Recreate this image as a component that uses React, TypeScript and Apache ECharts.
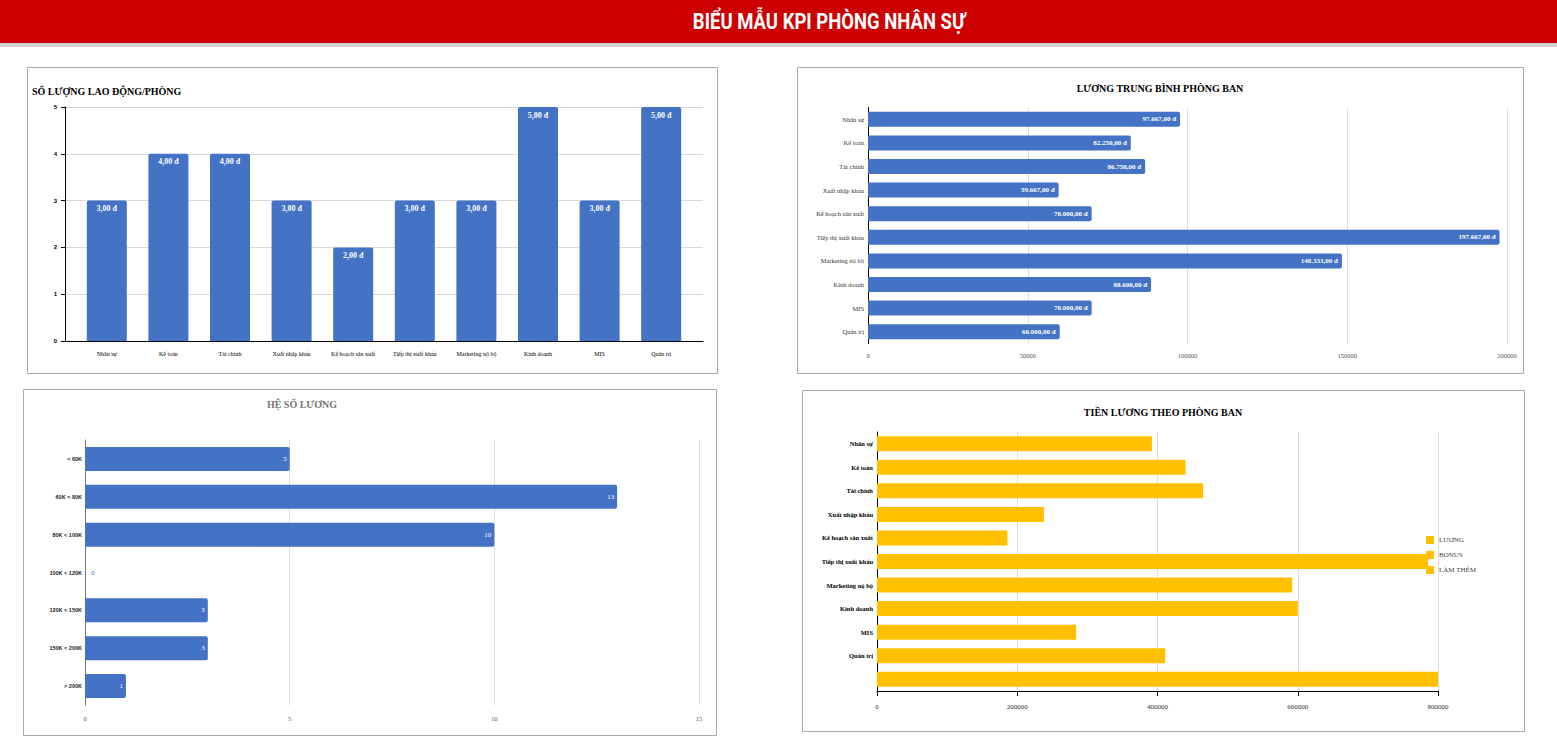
import React, { useEffect, useRef } from "react";
import * as echarts from "echarts";

// ---- DATA ----
const departments = [
  "Nhân sự",
  "Kế toán",
  "Tài chính",
  "Xuất nhập khẩu",
  "Kế hoạch sản xuất",
  "Tiếp thị xuất khẩu",
  "Marketing nộ bộ",
  "Kinh doanh",
  "MIS",
  "Quản trị",
];
const headcount = [3, 4, 4, 3, 2, 3, 3, 5, 3, 5];
const avgSalary = [97667, 82250, 86750, 59667, 70000, 197667, 148333, 88600, 70000, 60000];

const salaryBands = ["< 60K", "60K < 80K", "80K < 100K", "100K < 120K", "120K < 150K", "150K < 200K", "> 200K"];
const bandCounts = [5, 13, 10, 0, 3, 3, 1];

const payrollCategories = [...departments, ""];
const payrollSalary = [392000, 440000, 465000, 238000, 186000, 786000, 592000, 600000, 284000, 411000, 800000];
const payrollBonus: number[] = [];
const payrollOvertime: number[] = [];
const payrollLegend = ["LƯƠNG", "BONUS", "LÀM THÊM"];

const headerTitle = "BIỂU MẪU KPI PHÒNG NHÂN SỰ";
const titles = ["SỐ LƯỢNG LAO ĐỘNG/PHÒNG", "LƯƠNG TRUNG BÌNH PHÒNG BAN", "HỆ SỐ LƯƠNG", "TIỀN LƯƠNG THEO PHÒNG BAN"];

// ---- HELPERS ----
const SERIF = "'Liberation Serif', 'DejaVu Serif', serif";
const SANS = "'Liberation Sans', sans-serif";
const BLUE = "#4472c4";
const GOLD = "#ffc000";
const fmtCount = (v: number) => v.toFixed(2).replace(".", ",") + " đ";
const fmtMoney = (v: number) =>
  Math.round(v)
    .toString()
    .replace(/\B(?=(\d{3})+(?!\d))/g, ".") + ",00 đ";
const plain = (v: number) => String(v);

export default function App() {
  const ref = useRef<HTMLDivElement>(null);

  useEffect(() => {
    if (!ref.current) return;
    const chart = echarts.init(ref.current, null, { renderer: "svg" });

    const panel = (x: number, y: number, w: number, h: number) => ({
      type: "rect",
      shape: { x: x + 0.5, y: y + 0.5, width: w, height: h },
      style: { fill: "#fff", stroke: "#a9a9a9", lineWidth: 1 },
      z: -10,
    });
    const titleText = (text: string, x: number, y: number, align: string, color = "#000") => ({
      type: "text",
      x,
      y,
      style: {
        text,
        textAlign: align,
        textVerticalAlign: "middle",
        fill: color,
        font: `bold 10px ${SERIF}`,
      },
    });

    const option: any = {
      animation: false,
      backgroundColor: "#fff",
      graphic: [
        { type: "rect", shape: { x: 0, y: 0, width: 1557, height: 43 }, style: { fill: "#cc0000" }, z: -20 },
        { type: "rect", shape: { x: 0, y: 43, width: 1557, height: 4 }, style: { fill: "#cfcfcf" }, z: -20 },
        {
          type: "text",
          x: 829,
          y: 21,
          scaleX: 0.86,
          style: {
            text: headerTitle,
            textAlign: "center",
            textVerticalAlign: "middle",
            fill: "#fff",
            font: "bold 21.5px Roboto, 'Liberation Sans', sans-serif",
          },
        },
        panel(27, 67, 690, 306),
        panel(797, 67, 726, 306),
        panel(23, 389, 693, 346),
        panel(802, 390, 722, 341),
        titleText(titles[0], 32, 91, "left"),
        titleText(titles[1], 1160, 88, "center"),
        titleText(titles[2], 302, 404, "center", "#757575"),
        titleText(titles[3], 1163, 412, "center"),
      ],
      legend: {
        data: payrollLegend,
        orient: "vertical",
        left: 1421,
        top: 531,
        itemWidth: 8,
        itemHeight: 8,
        itemGap: 7,
        icon: "rect",
        textStyle: { fontSize: 7, fontFamily: SERIF, color: "#444" },
      },
      grid: [
        { left: 76, top: 107, width: 616, height: 234 },
        { left: 868, top: 107.5, width: 639, height: 236 },
        { left: 85, top: 440, width: 614, height: 265 },
        { left: 877, top: 432, width: 561, height: 259 },
        { left: 65, top: 107, width: 638, height: 234 },
      ],
      xAxis: [
        {
          gridIndex: 0,
          type: "category",
          data: departments,
          axisLine: { show: false },
          axisTick: { alignWithLabel: true, length: 6, lineStyle: { color: "#000" } },
          axisLabel: { fontSize: 6, fontFamily: SERIF, color: "#000", margin: 10, interval: 0 },
        },
        {
          gridIndex: 1,
          type: "value",
          min: 0,
          max: 200000,
          interval: 50000,
          axisLine: { show: false },
          axisTick: { show: false },
          axisLabel: { fontSize: 6.5, fontFamily: SERIF, color: "#555", margin: 8, formatter: plain },
          splitLine: { lineStyle: { color: "#dcdcdc" } },
        },
        {
          gridIndex: 2,
          type: "value",
          min: 0,
          max: 15,
          interval: 5,
          axisLine: { show: false },
          axisTick: { show: false },
          axisLabel: { fontSize: 6.5, fontFamily: SERIF, color: "#555", margin: 10, formatter: plain },
          splitLine: { lineStyle: { color: "#dcdcdc" } },
        },
        {
          gridIndex: 3,
          type: "value",
          min: 0,
          max: 800000,
          interval: 200000,
          axisLine: { show: true, lineStyle: { color: "#000" } },
          axisTick: { show: true, length: 5, lineStyle: { color: "#000" } },
          axisLabel: { fontSize: 7, fontFamily: SERIF, color: "#333", margin: 12, formatter: plain },
          splitLine: { lineStyle: { color: "#dcdcdc" } },
        },
        {
          gridIndex: 4,
          type: "value",
          min: 0,
          max: 1,
          axisLine: { show: true, onZero: false, lineStyle: { color: "#000" } },
          axisTick: { show: false },
          axisLabel: { show: false },
          splitLine: { show: false },
        },
      ],
      yAxis: [
        {
          gridIndex: 0,
          type: "value",
          min: 0,
          max: 5,
          interval: 1,
          show: false,
          splitLine: { show: false },
        },
        {
          gridIndex: 1,
          type: "category",
          inverse: true,
          data: departments,
          axisLine: { lineStyle: { color: "#000" } },
          axisTick: { show: false },
          axisLabel: { fontSize: 6.5, fontFamily: SERIF, color: "#333", margin: 4, interval: 0 },
        },
        {
          gridIndex: 2,
          type: "category",
          inverse: true,
          data: salaryBands,
          axisLine: { lineStyle: { color: "#777" } },
          axisTick: { show: false },
          axisLabel: { fontSize: 5.5, fontWeight: "bold", fontFamily: SANS, color: "#222", margin: 3, interval: 0 },
        },
        {
          gridIndex: 3,
          type: "category",
          inverse: true,
          data: payrollCategories,
          axisLine: { lineStyle: { color: "#000" } },
          axisTick: { show: false },
          axisLabel: { fontSize: 6.5, fontWeight: "bold", fontFamily: SERIF, color: "#000", margin: 4, interval: 0 },
        },
        {
          gridIndex: 4,
          type: "value",
          min: 0,
          max: 5,
          interval: 1,
          axisLine: { show: true, onZero: false, lineStyle: { color: "#000" } },
          axisTick: { show: true, length: 4, lineStyle: { color: "#000" } },
          axisLabel: { fontSize: 6, fontWeight: "bold", fontFamily: SANS, color: "#000", margin: 8 },
          splitLine: { lineStyle: { color: "#d9d9d9" } },
        },
      ],
      series: [
        {
          type: "bar",
          xAxisIndex: 0,
          yAxisIndex: 0,
          data: headcount,
          barWidth: 40,
          itemStyle: { color: BLUE, borderRadius: [2, 2, 0, 0] },
          label: {
            show: true,
            position: "insideTop",
            distance: 4,
            color: "#fff",
            fontWeight: "bold",
            fontSize: 8,
            fontFamily: SERIF,
            formatter: (p: any) => fmtCount(p.value),
          },
        },
        {
          type: "bar",
          xAxisIndex: 1,
          yAxisIndex: 1,
          data: avgSalary,
          barWidth: 15,
          itemStyle: { color: BLUE, borderRadius: [0, 2, 2, 0] },
          label: {
            show: true,
            position: "insideRight",
            distance: 4,
            color: "#fff",
            fontWeight: "bold",
            fontSize: 7,
            fontFamily: SERIF,
            formatter: (p: any) => fmtMoney(p.value),
          },
        },
        {
          type: "bar",
          xAxisIndex: 2,
          yAxisIndex: 2,
          data: bandCounts.map((v) =>
            v === 0 ? { value: v, label: { position: "right", color: BLUE, distance: 6 } } : v
          ),
          barWidth: 24,
          itemStyle: { color: BLUE, borderRadius: [0, 2, 2, 0] },
          label: {
            show: true,
            position: "insideRight",
            distance: 3,
            color: "#fff",
            fontSize: 7,
            fontFamily: SERIF,
          },
        },
        {
          name: payrollLegend[0],
          type: "bar",
          stack: "pay",
          xAxisIndex: 3,
          yAxisIndex: 3,
          data: payrollSalary,
          barWidth: 15,
          itemStyle: { color: GOLD },
        },
        {
          name: payrollLegend[1],
          type: "bar",
          stack: "pay",
          xAxisIndex: 3,
          yAxisIndex: 3,
          data: payrollBonus,
          barWidth: 15,
          itemStyle: { color: GOLD },
        },
        {
          name: payrollLegend[2],
          type: "bar",
          stack: "pay",
          xAxisIndex: 3,
          yAxisIndex: 3,
          data: payrollOvertime,
          barWidth: 15,
          itemStyle: { color: GOLD },
        },
      ],
    };

    chart.setOption(option);
    return () => chart.dispose();
  }, []);

  return (
    <div
      ref={ref}
      style={{ position: "absolute", left: 0, top: 0, width: 1557, height: 742, background: "#fff" }}
    />
  );
}
